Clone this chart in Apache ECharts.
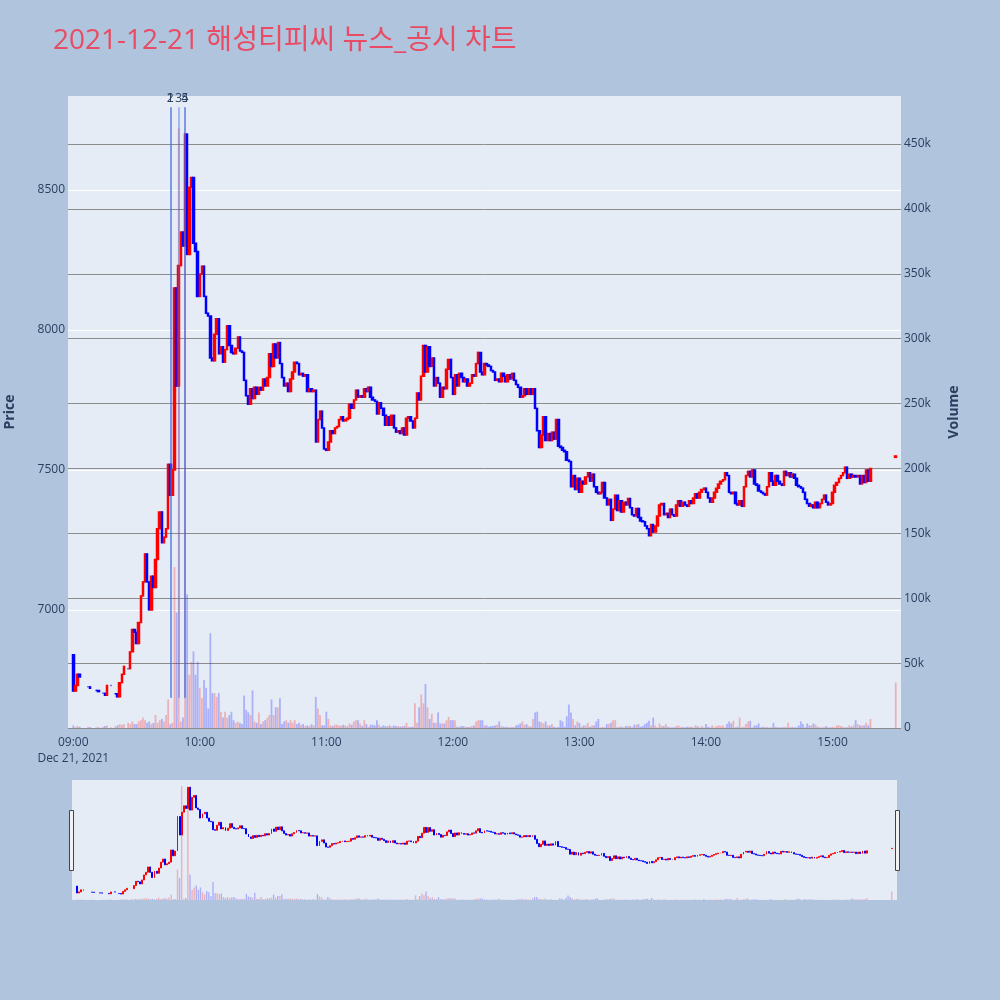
<!DOCTYPE html>
<html>
<head>
<meta charset="utf-8">
<script src="https://cdn.jsdelivr.net/npm/echarts@6.0.0/dist/echarts.min.js"></script>
<style>
  html, body { margin: 0; padding: 0; background: #b0c4de; }
  #chart { width: 1000px; height: 1000px; }
</style>
</head>
<body>
<div id="chart"></div>
<script>
// 1분봉 종가 (09:00 ~ 15:30), null = 체결 없음
var closes = [
  6710, 6730, 6770, 6760, null, null, null, 6725, 6720, null,
  null, 6712, 6708, null, 6702, 6695, 6730, null, 6730, null,
  6700, 6690, 6740, 6770, 6798, null, 6790, 6850, 6930, 6920,
  6880, 6955, 7050, 7100, 7200, 7100, 7000, 7120, 7080, 7180,
  7290, 7350, 7240, 7260, 7290, 7520, 7410, 7500, 8150, 7800,
  8230, 8350, 8300, 8700, 8270, 8510, 8545, 8310, 8280, 8120,
  8200, 8228, 8120, 8060, 8050, 7900, 7890, 7985, 8040, 7915,
  7940, 7885, 7930, 8015, 7945, 7920, 7915, 7935, 7975, 7925,
  7920, 7820, 7765, 7735, 7790, 7755, 7795, 7770, 7795, 7785,
  7825, 7800, 7830, 7915, 7870, 7950, 7900, 7955, 7880, 7830,
  7800, 7810, 7780, 7825, 7850, 7885, 7880, 7840, 7845, 7835,
  7840, 7780, 7790, 7780, 7785, 7600, 7680, 7710, 7650, 7575,
  7570, 7600, 7640, 7630, 7650, 7655, 7680, 7690, 7675, 7680,
  7685, 7735, 7720, 7750, 7785, 7760, 7765, 7760, 7790, 7780,
  7795, 7760, 7750, 7745, 7700, 7740, 7720, 7695, 7660, 7690,
  7660, 7695, 7650, 7635, 7640, 7630, 7650, 7625, 7685, 7690,
  7675, 7650, 7685, 7775, 7750, 7835, 7945, 7850, 7940, 7870,
  7900, 7800, 7830, 7810, 7760, 7795, 7790, 7860, 7895, 7830,
  7770, 7840, 7800, 7845, 7830, 7815, 7825, 7800, 7810, 7840,
  7835, 7880, 7920, 7850, 7840, 7880, 7875, 7870, 7855, 7850,
  7820, 7825, 7815, 7845, 7835, 7815, 7840, 7825, 7845, 7820,
  7805, 7795, 7760, 7765, 7790, 7770, 7790, 7770, 7790, 7720,
  7640, 7580, 7625, 7690, 7605, 7630, 7605, 7635, 7610, 7680,
  7585, 7580, 7570, 7565, 7535, 7530, 7440, 7480, 7430, 7470,
  7420, 7460, 7450, 7475, 7490, 7460, 7485, 7440, 7420, 7415,
  7420, 7455, 7400, 7375, 7395, 7320, 7360, 7410, 7355, 7390,
  7350, 7385, 7375, 7398, 7365, 7340, 7335, 7362, 7330, 7318,
  7315, 7300, 7290, 7265, 7305, 7278, 7300, 7335, 7375, 7380,
  7340, 7345, 7330, 7360, 7340, 7335, 7375, 7390, 7370, 7385,
  7375, 7370, 7390, 7380, 7400, 7415, 7400, 7420, 7430, 7435,
  7420, 7400, 7385, 7400, 7420, 7435, 7450, 7460, 7465, 7490,
  7480, 7420, 7415, 7420, 7380, 7375, 7390, 7370, 7440, 7480,
  7495, 7475, 7500, 7450, 7445, 7425, 7420, 7415, 7410, 7440,
  7490, 7460, 7445, 7480, 7460, 7450, 7445, 7495, 7480, 7490,
  7475, 7485, 7470, 7445, 7440, 7435, 7420, 7395, 7380, 7370,
  7375, 7365, 7385, 7365, 7380, 7395, 7410, 7385, 7375, 7380,
  7420, 7445, 7455, 7470, 7480, 7490, 7510, 7470, 7485, 7475,
  7480, 7475, 7480, 7450, 7480, 7455, 7500, 7460, 7505, null,
  null, null, null, null, null, null, null, null, null, null,
  7550
];
// 시가가 직전 종가와 다른 봉
var openFix = { 0: 6840, 390: 7545 };

// 1분 거래량
var volumes = [
  2000, 800, 1500, 1000, null, null, null, 1000, 800, null,
  null, 500, 600, null, 1000, 1500, 2000, null, 500, null,
  1500, 2000, 3000, 2500, 3000, null, 4000, 3000, 5000, 3000,
  3000, 5000, 6000, 8000, 6000, 4000, 5000, 3000, 4000, 10000,
  4000, 6000, 7000, 5000, 10000, 22000, 3000, 4000, 124000, 89000,
  462000, 5000, 8000, 455000, 103000, 41000, 51000, 59000, 41000, 51000,
  31000, 23000, 37000, 31000, 15000, 73000, 27000, 27000, 24000, 27000,
  12500, 8000, 12500, 8000, 10000, 12500, 6000, 4000, 5000, 4000,
  3000, 25000, 14000, 12000, 10000, 29000, 5000, 4000, 12000, 3000,
  5000, 6000, 8000, 10000, 22000, 10000, 16000, 16000, 23000, 3000,
  5000, 6000, 4000, 6000, 4000, 6000, 3000, 4000, 2500, 3000,
  1500, 2000, 1500, 3000, 2000, 24000, 15000, 10000, 2000, 2000,
  12600, 7000, 2000, 1500, 2500, 2500, 2000, 2000, 2500, 2000,
  1500, 3500, 2500, 5000, 6000, 6000, 3500, 1500, 6000, 3000,
  1000, 2500, 2500, 2000, 6000, 2500, 1000, 2000, 1500, 1500,
  2000, 1000, 2000, 1500, 1500, 1000, 1500, 1500, 4000, 1000,
  800, 1000, 19000, 4000, 16000, 26000, 19000, 34000, 16000, 7000,
  11000, 4000, 4000, 12000, 3500, 3500, 3500, 6000, 8500, 6000,
  6000, 6000, 1000, 1000, 1500, 1500, 1000, 800, 1000, 1500,
  2000, 5000, 6000, 6000, 6000, 2000, 2000, 1000, 1500, 1500,
  2000, 2500, 5000, 1500, 1000, 800, 1000, 500, 1000, 500,
  2000, 2500, 3500, 5000, 2500, 3000, 1500, 1000, 7000, 12000,
  12600, 5000, 4500, 3500, 5000, 2000, 2000, 3000, 1000, 500,
  800, 6000, 5000, 1000, 9000, 18000, 12000, 7000, 2000, 5000,
  4000, 1000, 2000, 2000, 4000, 1000, 2000, 2000, 5000, 7000,
  500, 1000, 500, 3000, 3000, 4000, 6000, 6000, 500, 1000,
  1000, 500, 1500, 1500, 1500, 500, 2500, 2500, 3000, 1000,
  1500, 3000, 4000, 5500, 2000, 8000, 2000, 500, 3500, 1500,
  1500, 3000, 1000, 500, 500, 500, 1500, 2000, 500, 1000,
  500, 1000, 1000, 1000, 500, 2000, 1500, 500, 1500, 500,
  3000, 1000, 500, 2000, 500, 1500, 2000, 1500, 2000, 500,
  3000, 5000, 3500, 5500, 500, 1000, 8000, 500, 1000, 3000,
  5000, 5500, 500, 2000, 2000, 3500, 500, 1000, 500, 1000,
  500, 500, 4000, 1000, 500, 500, 500, 1000, 500, 4000,
  500, 1000, 500, 500, 2000, 5000, 3000, 500, 3500, 2000,
  2000, 3500, 2500, 1000, 500, 500, 500, 1500, 500, 500,
  1000, 500, 2000, 2000, 1500, 1000, 500, 500, 2000, 1000,
  2000, 6000, 3000, 2000, 2000, 2000, 4000, 2000, 7000, null,
  null, null, null, null, null, null, null, null, null, null,
  35000
];

// 뉴스/공시 시각
var newsTimes = ['09:46', '09:46', '09:50', '09:53', '09:53'];
var newsLabels = ['1', '2', '3', '4', '5'];
var newsLow = 6686, newsHigh = 8796;

var priceTicks = [7000, 7500, 8000, 8500];
var volumeTicks = [0, 50000, 100000, 150000, 200000, 250000, 300000, 350000, 400000, 450000];
var priceRange = [6578, 8836];
var volumeRange = [0, 487000];

var font = "'Open Sans', 'Noto Sans CJK KR', sans-serif";
var axisColor = '#2a3f5f';
var upColor = '#ff0000', downColor = '#0000ff';
var upVol = 'rgba(255,0,0,0.25)', downVol = 'rgba(0,0,255,0.25)';

// x 축: 08:58 ~ 15:32 매 분
var cats = [];
for (var t = 8 * 60 + 58; t <= 15 * 60 + 32; t++) {
    cats.push(String(Math.floor(t / 60)).padStart(2, '0') + ':' + String(t % 60).padStart(2, '0'));
}
var offset = cats.indexOf('09:00');

var candle = cats.map(function () { return '-'; });
var vol = cats.map(function () { return '-'; });
closes.forEach(function (c, m) {
    if (c == null) return;
    var o = openFix[m] != null ? openFix[m] : (m > 0 && closes[m - 1] != null ? closes[m - 1] : c);
    candle[m + offset] = [o, c, Math.min(o, c), Math.max(o, c)];
    vol[m + offset] = { value: volumes[m], itemStyle: { color: c >= o ? upVol : downVol } };
});

// 같은 시각에 겹치는 라벨은 뒤 번호가 보이도록 역순
var newsLines = newsTimes.map(function (tm, i) {
    var idx = cats.indexOf(tm);
    return [{ name: newsLabels[i], coord: [idx, newsLow] }, { coord: [idx, newsHigh] }];
}).reverse();

var myChart = echarts.init(document.getElementById('chart'));
var option = {
    backgroundColor: '#b0c4de',
    animation: false,
    title: {
        text: '2021-12-21 해성티피씨 뉴스_공시 차트',
        left: 48,
        top: 22,
        textStyle: { color: '#e84c64', fontSize: 28, fontWeight: 'normal', fontFamily: font }
    },
    grid: [{
        left: 68, right: 99, top: 96, height: 632,
        show: true, backgroundColor: '#e5ecf6', borderWidth: 0,
        outerBoundsMode: 'none'
    }, {
        left: 72, right: 103, top: 780, height: 120,
        show: true, backgroundColor: '#e5ecf6', borderWidth: 0,
        outerBoundsMode: 'none'
    }],
    xAxis: [{
        type: 'category',
        gridIndex: 0,
        data: cats,
        boundaryGap: true,
        axisLine: { show: false },
        axisTick: { show: false },
        splitLine: { show: false },
        axisLabel: {
            interval: function (index, value) { return /:00$/.test(value); },
            formatter: function (value) {
                return value === '09:00' ? '09:00\nDec 21, 2021' : value;
            },
            color: axisColor, fontSize: 12, fontFamily: font, margin: 7, lineHeight: 16
        }
    }, {
        type: 'category',
        gridIndex: 1,
        data: cats,
        boundaryGap: true,
        show: false
    }],
    yAxis: [{
        type: 'value',
        gridIndex: 0,
        position: 'left',
        min: priceRange[0], max: priceRange[1],
        name: 'Price',
        nameLocation: 'middle', nameRotate: 90, nameGap: 51,
        nameTextStyle: { color: axisColor, fontSize: 14, fontWeight: 'bold', fontFamily: font },
        axisLine: { show: false },
        axisTick: { show: false, customValues: priceTicks },
        axisLabel: {
            customValues: priceTicks, color: axisColor, fontSize: 12, fontFamily: font, margin: 3,
            formatter: function (v) { return String(v); }
        },
        splitLine: { show: true, lineStyle: { color: '#ffffff', width: 1 } }
    }, {
        type: 'value',
        gridIndex: 0,
        position: 'right',
        min: volumeRange[0], max: volumeRange[1],
        name: 'Volume',
        nameLocation: 'middle', nameRotate: 90, nameGap: 46,
        nameTextStyle: { color: axisColor, fontSize: 14, fontWeight: 'bold', fontFamily: font },
        axisLine: { show: false },
        axisTick: { show: false, customValues: volumeTicks },
        axisLabel: {
            customValues: volumeTicks,
            color: axisColor, fontSize: 12, fontFamily: font, margin: 3,
            formatter: function (v) { return v === 0 ? '0' : (v / 1000) + 'k'; }
        },
        splitLine: { show: true, lineStyle: { color: '#8c8c8c', width: 1 } }
    }, {
        type: 'value', gridIndex: 1, min: priceRange[0], max: priceRange[1], show: false,
        splitLine: { show: false }
    }, {
        type: 'value', gridIndex: 1, min: volumeRange[0], max: volumeRange[1], show: false,
        splitLine: { show: false }
    }],
    series: [{
        name: 'Volume',
        type: 'bar',
        xAxisIndex: 0, yAxisIndex: 1,
        barWidth: 1.8,
        data: vol
    }, {
        name: 'Price',
        type: 'candlestick',
        xAxisIndex: 0, yAxisIndex: 0,
        barWidth: 2,
        itemStyle: {
            color: upColor, color0: downColor,
            borderColor: upColor, borderColor0: downColor, borderWidth: 1.5
        },
        data: candle,
        markLine: {
            silent: true,
            symbol: 'none',
            precision: 0,
            lineStyle: { color: 'rgba(65,105,225,0.4)', width: 2, type: 'solid' },
            label: {
                show: true, position: 'end', distance: 3,
                formatter: function (p) { return p.name; },
                color: axisColor, fontSize: 12, fontFamily: font
            },
            emphasis: { disabled: true },
            data: newsLines
        }
    }, {
        name: 'VolumeMini',
        type: 'bar',
        xAxisIndex: 1, yAxisIndex: 3,
        barWidth: 1.4,
        data: vol
    }, {
        name: 'PriceMini',
        type: 'candlestick',
        xAxisIndex: 1, yAxisIndex: 2,
        barWidth: 1.4,
        itemStyle: {
            color: upColor, color0: downColor,
            borderColor: upColor, borderColor0: downColor, borderWidth: 1
        },
        data: candle
    }],
    graphic: [{
        type: 'rect', left: 69, top: 810,
        shape: { width: 4, height: 60 },
        style: { fill: '#f2f2f2', stroke: '#444', lineWidth: 1 }
    }, {
        type: 'rect', left: 895, top: 810,
        shape: { width: 4, height: 60 },
        style: { fill: '#f2f2f2', stroke: '#444', lineWidth: 1 }
    }]
};
myChart.setOption(option);
window.onresize = myChart.resize;
</script>
</body>
</html>
